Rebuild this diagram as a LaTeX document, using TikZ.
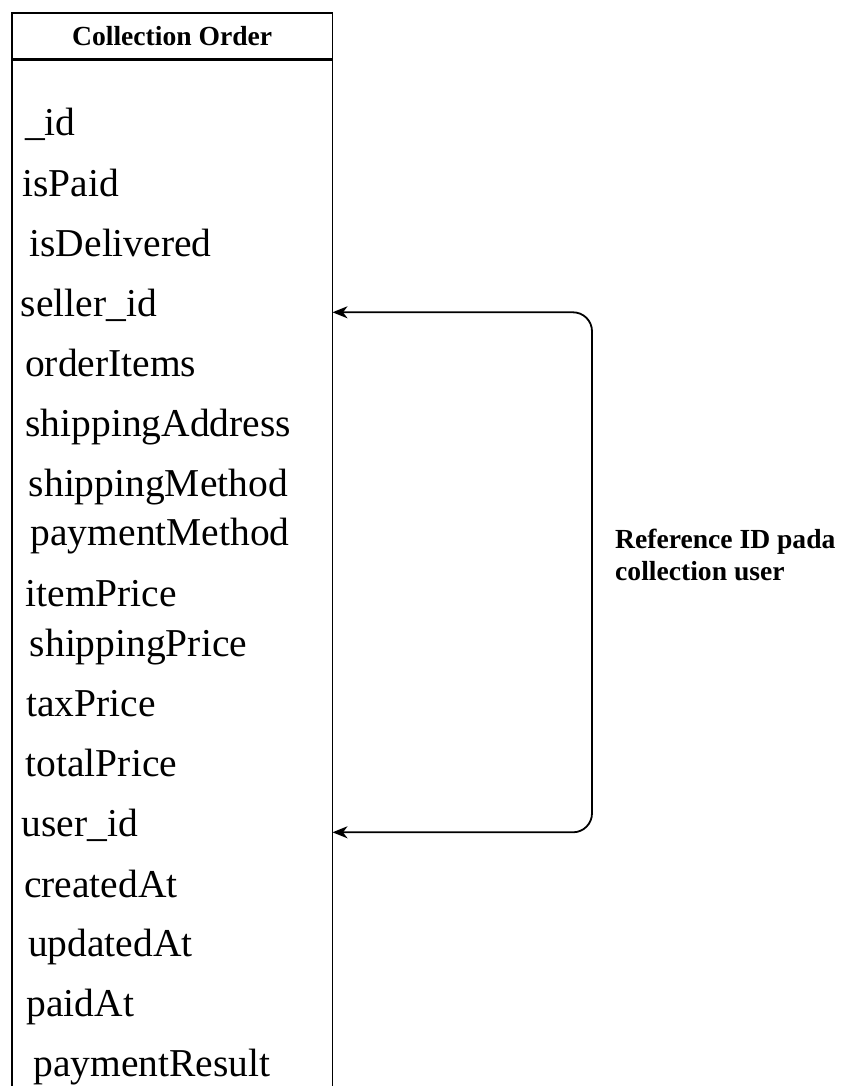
\documentclass[tikz,border=0pt]{standalone}
\usepackage{fontspec}
\setmainfont{Liberation Serif}
\usetikzlibrary{arrows.meta}

\tikzset{
  frame/.style={draw=black, line width=1.6pt, inner sep=0pt, anchor=north west, minimum width=320.7pt},
  attr/.style={anchor=base west, inner sep=0pt, font=\fontsize{39.5}{40}\selectfont},
  link/.style={draw=black, line width=1.8pt, rounded corners=19pt,
    {Stealth[length=15pt,width=12pt,inset=4.5pt]}-{Stealth[length=15pt,width=12pt,inset=4.5pt]}},
  note/.style={anchor=north west, inner sep=0pt, align=left,
    font=\fontsize{27.6}{32}\selectfont\bfseries}
}

\begin{document}
\begin{tikzpicture}[x=1pt,y=-1pt]
  \useasboundingbox (0,0) rectangle (840,1086);
  \fill[white] (0,0) rectangle (840,1086);

  % table header and body (body runs past the lower edge of the page)
  \node[frame, minimum height=46.3pt] (head) at (11,12)
    {\fontsize{27.6}{30}\selectfont\bfseries Collection Order};
  \node[frame, minimum height=1100pt] (body) at (head.south west) {};

  % attributes
  \node[attr] (aId)        at (25.0,136.0)   {\_id};
  \node[attr] (aPaid)      at (22.0,196.7)   {isPaid};
  \node[attr] (aDeliv)     at (29.4,256.7)   {isDelivered};
  \node[attr] (aSeller)    at (20.7,316.0)   {seller\_id};
  \node[attr] (aItems)     at (24.9,376.0)   {orderItems};
  \node[attr] (aShipAddr)  at (25.3,436.7)   {shippingAddress};
  \node[attr] (aShipMeth)  at (28.7,496.7)   {shippingMethod};
  \node[attr] (aPayMeth)   at (30.5,545.0)   {paymentMethod};
  \node[attr] (aItemPr)    at (25.4,606.0)   {itemPrice};
  \node[attr] (aShipPr)    at (29.7,656.7)   {shippingPrice};
  \node[attr] (aTaxPr)     at (26.2,716.0)   {taxPrice};
  \node[attr] (aTotPr)     at (25.5,776.0)   {totalPrice};
  \node[attr] (aUser)      at (21.4,836.7)   {user\_id};
  \node[attr] (aCreated)   at (24.0,897.0)   {createdAt};
  \node[attr] (aUpdated)   at (28.0,956.7)   {updatedAt};
  \node[attr] (aPaidAt)    at (26.5,1016.7)  {paidAt};
  \node[attr] (aPayRes)    at (33.1,1076.7)  {paymentResult};

  % reference link between seller_id and user_id
  \coordinate (inSeller) at (332.5,312.3);
  \coordinate (inUser)   at (332.5,832.3);
  \coordinate (turn)     at (592,572);
  \draw[link] (inSeller) -- (inSeller -| turn) -- (inUser -| turn) -- (inUser);

  \node[note] (refnote) at (615,529.3) {Reference ID pada\\collection user};
\end{tikzpicture}
\end{document}
